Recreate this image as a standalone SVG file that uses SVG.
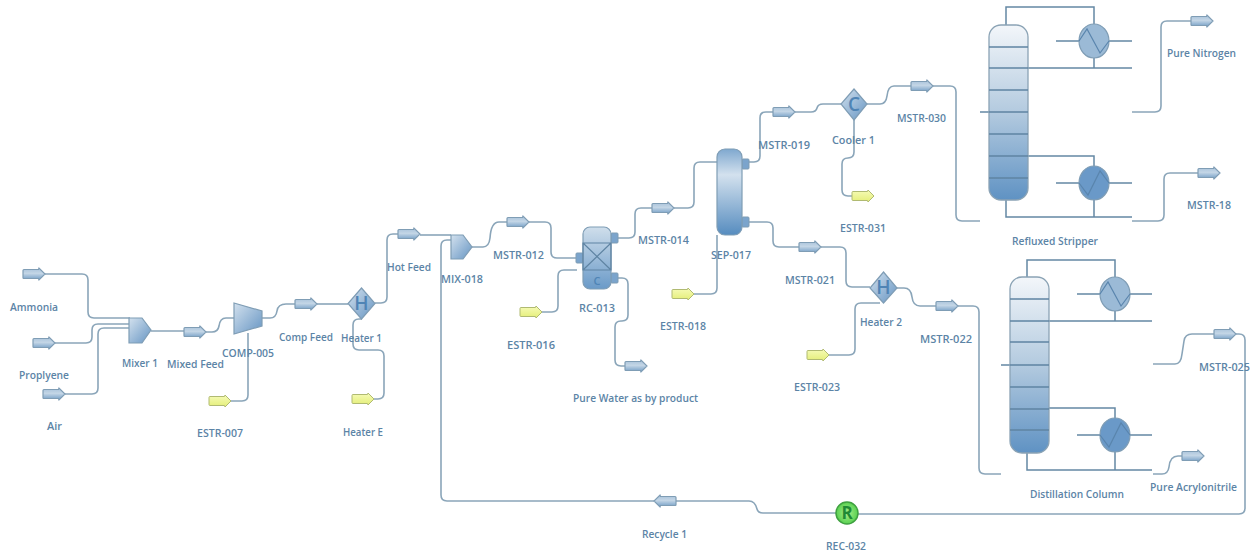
<svg xmlns="http://www.w3.org/2000/svg" width="1259" height="551" viewBox="0 0 1259 551">
<style>
text{font-family:"Open Sans","Noto Sans","Liberation Sans",sans-serif;font-size:11.5px;font-weight:600;fill:#5c84a6}
.c{fill:none;stroke:#8aa5b9;stroke-width:1.6;stroke-linejoin:round}
.l{fill:none;stroke:#6488a4;stroke-width:1.5}
.z{fill:none;stroke:#5a85ad;stroke-width:1.2}
.tray{fill:none;stroke:#5f84a3;stroke-width:1.3}
.eq{stroke:#7f9db5;stroke-width:1.2}
.letter{font-size:19px;font-weight:600;fill:#4f84b5;text-anchor:middle}
</style>
<defs>
<linearGradient id="gs" x1="0" y1="0" x2="0" y2="1"><stop offset="0" stop-color="#a5c0d9"/><stop offset=".45" stop-color="#c4d6e6"/><stop offset="1" stop-color="#6f9bc4"/></linearGradient>
<linearGradient id="gy" x1="0" y1="0" x2="0" y2="1"><stop offset="0" stop-color="#f6fbb8"/><stop offset="1" stop-color="#e4ee78"/></linearGradient>
<linearGradient id="gd" x1="0" y1="0" x2="1" y2="1"><stop offset="0" stop-color="#d3e1ee"/><stop offset="1" stop-color="#6695c3"/></linearGradient>
<linearGradient id="gc" x1="0" y1="0" x2="0" y2="1"><stop offset="0" stop-color="#f3f6fa"/><stop offset=".5" stop-color="#b3cadf"/><stop offset="1" stop-color="#5f92c3"/></linearGradient>
<linearGradient id="gr" x1="0" y1="0" x2="0" y2="1"><stop offset="0" stop-color="#cfdeeb"/><stop offset="1" stop-color="#6a9ac8"/></linearGradient>
<linearGradient id="gsep" x1="0" y1="0" x2="0" y2="1"><stop offset="0" stop-color="#7fa8cf"/><stop offset=".3" stop-color="#d3e1ee"/><stop offset="1" stop-color="#568cbf"/></linearGradient>
<radialGradient id="gg"><stop offset="0" stop-color="#a8f08c"/><stop offset="1" stop-color="#58d050"/></radialGradient>
<path id="arw" d="M1,-4.500H15.500L16,-6L22,0L16,6L15.500,4.500H1Q0,4.500 0,3.500V-3.500Q0,-4.500 1,-4.500Z"/>
<rect id="noz" x="0" y="-5" width="7" height="10" rx="1" fill="#7ba4cc" stroke="#7f9db5"/>
</defs>

<g id="connectors">
<path class="c" d="M45,274H82Q88,274 88,280V312Q88,318 94,318H130"/>
<path class="c" d="M54,343H86Q92,343 92,337V330Q92,324 98,324H130"/>
<path class="c" d="M65,394H92Q98,394 98,388V334Q98,328 104,328H130"/>
<path class="c" d="M151,331H184"/>
<path class="c" d="M206,332H212Q218,332 219,326Q220,318 226,318H234"/>
<path class="c" d="M262,318H270Q276,318 277,311Q278,304 286,304H295"/>
<path class="c" d="M317,304H348"/>
<path class="c" d="M231,401H242Q248,401 248,395V333"/>
<path class="c" d="M375,303H381Q387,303 387,297V240Q387,234 393,234H398"/>
<path class="c" d="M373,399H378Q384,399 384,393V356Q384,350 378,350H359Q353,350 353,344V325Q353,319 359,319H362"/>
<path class="c" d="M420,235H451"/>
<path class="c" d="M472,247H483Q489,247 490,238Q491,222 499,222H507"/>
<path class="c" d="M529,222H545Q551,222 551,228V252Q551,258 557,258H576"/>
<path class="c" d="M542,312H552Q558,312 558,306V276Q558,270 564,270H577"/>
<path class="c" d="M618,238H629Q635,238 635,232V214Q635,208 641,208H652"/>
<path class="c" d="M674,208H688Q694,208 694,202V168Q694,162 700,162H717"/>
<path class="c" d="M618,278H622Q628,278 628,284V315Q628,321 622,321H621Q615,321 615,327V360Q615,366 621,366H625"/>
<path class="c" d="M694,294H711Q717,294 717,288V235"/>
<path class="c" d="M749,162H754Q760,162 760,156V118Q760,112 766,112H773"/>
<path class="c" d="M795,112H811Q816,112 817,108Q818,104 823,104H841"/>
<path class="c" d="M867,104H880Q886,104 887,96Q888,86 894,86H911"/>
<path class="c" d="M932,86H950Q956,86 956,92V215Q956,221 962,221H980"/>
<path class="c" d="M854,120V152Q854,158 848,158H848Q842,158 842,164V190Q842,196 848,196H852"/>
<path class="c" d="M749,222H767Q773,222 773,228V241Q773,247 779,247H799"/>
<path class="c" d="M821,247H840Q846,247 846,253V281Q846,287 852,287H870"/>
<path class="c" d="M829,355H849Q855,355 855,349V309Q855,303 861,303H880"/>
<path class="c" d="M897,288H904Q911,288 912,297Q913,306 920,306H936"/>
<path class="c" d="M958,306H973Q979,306 979,312V468Q979,474 985,474H1001"/>
<path class="c" d="M1132,112H1155Q1161,112 1161,106V27Q1161,21 1167,21H1191"/>
<path class="c" d="M1132,221H1158Q1164,221 1164,215V179Q1164,173 1170,173H1198"/>
<path class="c" d="M1153,364H1175Q1181,364 1182,354L1184,341Q1185,334 1192,334H1214"/>
<path class="c" d="M1153,474H1162Q1168,474 1169,467Q1170,456 1178,456H1182"/>
<path class="c" d="M1235,334H1239Q1245,334 1245,340V508Q1245,514 1239,514H858"/>
<path class="c" d="M836,513H763Q758,513 757,509Q755,501 749,501H676"/>
<path class="c" d="M654,501H447Q441,501 441,495V246Q441,240 447,240H451"/>
</g>

<g id="ammonia"><use href="#arw" x="23" y="274" fill="url(#gs)" class="eq"/><text x="10" y="311" textLength="48" lengthAdjust="spacingAndGlyphs">Ammonia</text></g>
<g id="propylene"><use href="#arw" x="33" y="343" fill="url(#gs)" class="eq"/><text x="19" y="379" textLength="50" lengthAdjust="spacingAndGlyphs">Proplyene</text></g>
<g id="air"><use href="#arw" x="43" y="394" fill="url(#gs)" class="eq"/><text x="47" y="430" textLength="15" lengthAdjust="spacingAndGlyphs">Air</text></g>
<g id="mixer-1"><path d="M129,318H142L151,330L142,343H129Z" fill="url(#gd)" class="eq"/><text x="122" y="367" textLength="36" lengthAdjust="spacingAndGlyphs">Mixer 1</text></g>
<g id="mixed-feed"><use href="#arw" x="184" y="332" fill="url(#gs)" class="eq"/><text x="167" y="368" textLength="57" lengthAdjust="spacingAndGlyphs">Mixed Feed</text></g>
<g id="comp-005"><path d="M234,303L262,311V326L234,334Z" fill="url(#gd)" class="eq"/><text x="222" y="357" textLength="52" lengthAdjust="spacingAndGlyphs">COMP-005</text></g>
<g id="estr-007"><use href="#arw" x="209" y="401" fill="url(#gy)" stroke="#b0ba72"/><text x="197" y="437" textLength="46" lengthAdjust="spacingAndGlyphs">ESTR-007</text></g>
<g id="comp-feed"><use href="#arw" x="295" y="304" fill="url(#gs)" class="eq"/><text x="279" y="341" textLength="54" lengthAdjust="spacingAndGlyphs">Comp Feed</text></g>
<g id="heater-1"><path d="M361.500,288L375,303.500L361.500,319L348,303.500Z" fill="url(#gd)" class="eq"/><text class="letter" x="361.500" y="310">H</text><text x="341" y="342" textLength="41" lengthAdjust="spacingAndGlyphs">Heater 1</text></g>
<g id="heater-e"><use href="#arw" x="352" y="399" fill="url(#gy)" stroke="#b0ba72"/><text x="343" y="436" textLength="40" lengthAdjust="spacingAndGlyphs">Heater E</text></g>
<g id="hot-feed"><use href="#arw" x="398" y="234" fill="url(#gs)" class="eq"/><text x="387" y="271" textLength="44" lengthAdjust="spacingAndGlyphs">Hot Feed</text></g>
<g id="mix-018"><path d="M451,235H463L472,247L463,259H451Z" fill="url(#gd)" class="eq"/><text x="441" y="283" textLength="42" lengthAdjust="spacingAndGlyphs">MIX-018</text></g>
<g id="mstr-012"><use href="#arw" x="507" y="222" fill="url(#gs)" class="eq"/><text x="493" y="259" textLength="51" lengthAdjust="spacingAndGlyphs">MSTR-012</text></g>
<g id="rc-013">
<use href="#noz" x="576" y="258"/><use href="#noz" x="611" y="238"/><use href="#noz" x="611" y="278"/>
<rect x="583" y="227" width="28" height="62" rx="7" fill="url(#gr)" class="eq"/>
<path d="M583,243H611V270H583ZM583,243L611,270M611,243L583,270" fill="none" stroke="#5f84a3" stroke-width="1.2"/>
<text class="letter" x="597" y="285" style="font-size:11px">C</text>
<text x="579" y="312" textLength="36" lengthAdjust="spacingAndGlyphs">RC-013</text></g>
<g id="estr-016"><use href="#arw" x="520" y="312" fill="url(#gy)" stroke="#b0ba72"/><text x="507" y="349" textLength="48" lengthAdjust="spacingAndGlyphs">ESTR-016</text></g>
<g id="mstr-014"><use href="#arw" x="652" y="208" fill="url(#gs)" class="eq"/><text x="638" y="244" textLength="51" lengthAdjust="spacingAndGlyphs">MSTR-014</text></g>
<g id="pure-water"><use href="#arw" x="625" y="366" fill="url(#gs)" class="eq"/><text x="573" y="402" textLength="125" lengthAdjust="spacingAndGlyphs">Pure Water as by product</text></g>
<g id="estr-018"><use href="#arw" x="672" y="294" fill="url(#gy)" stroke="#b0ba72"/><text x="660" y="330" textLength="46" lengthAdjust="spacingAndGlyphs">ESTR-018</text></g>
<g id="sep-017">
<use href="#noz" x="742" y="164"/><use href="#noz" x="742" y="222"/>
<rect x="717" y="149" width="25" height="86" rx="8" fill="url(#gsep)" class="eq"/>
<text x="711" y="259" textLength="40" lengthAdjust="spacingAndGlyphs">SEP-017</text></g>
<g id="mstr-019"><use href="#arw" x="773" y="112" fill="url(#gs)" class="eq"/><text x="758" y="149" textLength="52" lengthAdjust="spacingAndGlyphs">MSTR-019</text></g>
<g id="cooler-1"><path d="M854,89L867,104L854,120L841,104Z" fill="url(#gd)" class="eq"/><text class="letter" x="854" y="111">C</text><text x="832" y="144" textLength="43" lengthAdjust="spacingAndGlyphs">Cooler 1</text></g>
<g id="estr-031"><use href="#arw" x="852" y="196" fill="url(#gy)" stroke="#b0ba72"/><text x="840" y="232" textLength="46" lengthAdjust="spacingAndGlyphs">ESTR-031</text></g>
<g id="mstr-030"><use href="#arw" x="911" y="86" fill="url(#gs)" class="eq"/><text x="897" y="122" textLength="49" lengthAdjust="spacingAndGlyphs">MSTR-030</text></g>
<g id="mstr-021"><use href="#arw" x="799" y="247" fill="url(#gs)" class="eq"/><text x="785" y="284" textLength="50" lengthAdjust="spacingAndGlyphs">MSTR-021</text></g>
<g id="heater-2"><path d="M883.500,272L897,288L883.500,303L870,288Z" fill="url(#gd)" class="eq"/><text class="letter" x="883.500" y="294">H</text><text x="860" y="326" textLength="42" lengthAdjust="spacingAndGlyphs">Heater 2</text></g>
<g id="estr-023"><use href="#arw" x="807" y="355" fill="url(#gy)" stroke="#b0ba72"/><text x="794" y="391" textLength="46" lengthAdjust="spacingAndGlyphs">ESTR-023</text></g>
<g id="mstr-022"><use href="#arw" x="936" y="306" fill="url(#gs)" class="eq"/><text x="920" y="343" textLength="52" lengthAdjust="spacingAndGlyphs">MSTR-022</text></g>

<g id="refluxed-stripper">
<path class="l" d="M1006,25V7H1094V24M1094,58V68M1028,68H1132M1056,41H1079M1109,41H1132M980,112H989M1028,156H1094V166M1094,200V217M1006,200V217H1132M1056,183H1079M1109,183H1132"/>
<rect x="989" y="25" width="39" height="175" rx="12" fill="url(#gc)" stroke="#8ba3b5" stroke-width="1.3"/>
<path class="tray" d="M989,47H1028M989,68H1028M989,90H1028M989,112H1028M989,134H1028M989,156H1028M989,178H1028"/>
<ellipse cx="1094" cy="41" rx="15" ry="17" fill="#9bbad6" class="eq"/>
<path class="z" d="M1079,41L1087,29L1100,53L1109,41"/>
<ellipse cx="1094" cy="183" rx="15" ry="17" fill="#6a99c8" class="eq"/>
<path class="z" d="M1079,183L1088,195L1100,171L1109,183"/>
<text x="1012" y="245" textLength="86" lengthAdjust="spacingAndGlyphs">Refluxed Stripper</text></g>

<g id="distillation-column">
<path class="l" d="M1027,277V260H1115V277M1115,311V321M1049,321H1152M1077,294H1100M1130,294H1152M1001,365H1010M1049,408H1115V419M1115,452V470M1027,453V470H1152M1077,435H1100M1130,435H1152"/>
<rect x="1010" y="277" width="39" height="176" rx="12" fill="url(#gc)" stroke="#8ba3b5" stroke-width="1.3"/>
<path class="tray" d="M1010,299H1049M1010,321H1049M1010,342H1049M1010,365H1049M1010,387H1049M1010,409H1049M1010,430H1049"/>
<ellipse cx="1115" cy="294" rx="15" ry="17" fill="#9bbad6" class="eq"/>
<path class="z" d="M1100,294L1108,282L1121,306L1130,294"/>
<ellipse cx="1115" cy="435" rx="15" ry="17" fill="#6a99c8" class="eq"/>
<path class="z" d="M1100,435L1109,447L1121,423L1130,435"/>
<text x="1030" y="498" textLength="94" lengthAdjust="spacingAndGlyphs">Distillation Column</text></g>

<g id="pure-nitrogen"><use href="#arw" x="1191" y="21" fill="url(#gs)" class="eq"/><text x="1167" y="57" textLength="69" lengthAdjust="spacingAndGlyphs">Pure Nitrogen</text></g>
<g id="mstr-18"><use href="#arw" x="1198" y="173" fill="url(#gs)" class="eq"/><text x="1187" y="209" textLength="44" lengthAdjust="spacingAndGlyphs">MSTR-18</text></g>
<g id="mstr-025"><use href="#arw" x="1214" y="334" fill="url(#gs)" class="eq"/><text x="1199" y="371" textLength="51" lengthAdjust="spacingAndGlyphs">MSTR-025</text></g>
<g id="pure-acrylonitrile"><use href="#arw" x="1182" y="456" fill="url(#gs)" class="eq"/><text x="1150" y="491" textLength="87" lengthAdjust="spacingAndGlyphs">Pure Acrylonitrile</text></g>
<g id="recycle-1"><use href="#arw" transform="translate(676,501) scale(-1,1)" fill="url(#gs)" class="eq"/><text x="642" y="538" textLength="45" lengthAdjust="spacingAndGlyphs">Recycle 1</text></g>
<g id="rec-032"><circle cx="847" cy="513" r="11" fill="url(#gg)" stroke="#3fa040" stroke-width="1.5"/><text x="847" y="519" text-anchor="middle" style="font-size:17px;font-weight:700;fill:#1f8a35">R</text><text x="826" y="550" textLength="40" lengthAdjust="spacingAndGlyphs">REC-032</text></g>
</svg>
